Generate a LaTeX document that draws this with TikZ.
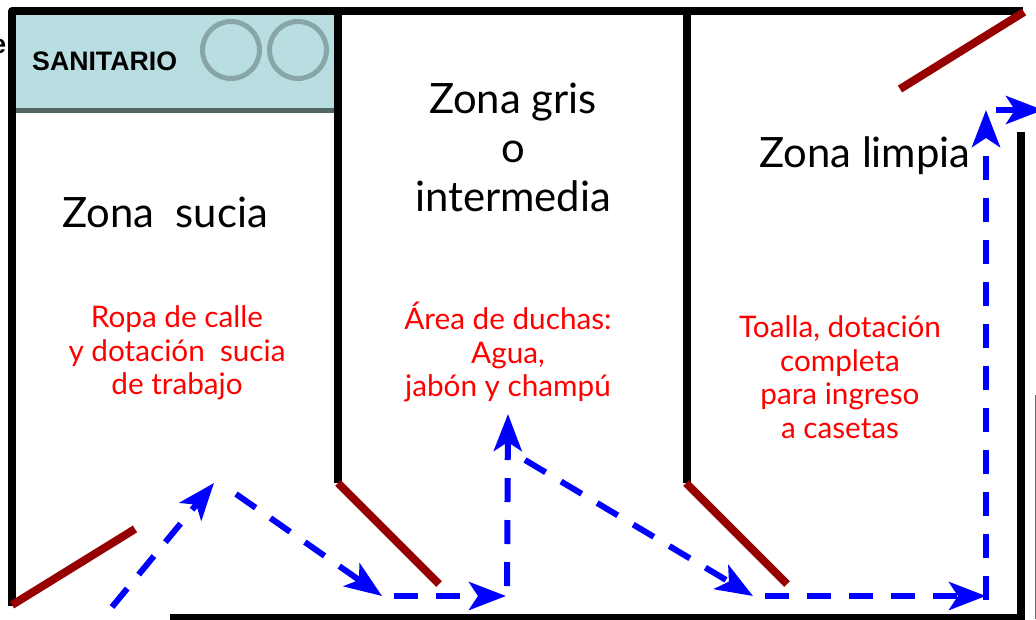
\documentclass[tikz,border=0pt]{standalone}
\usepackage{fontspec}
\setmainfont{Liberation Sans}
\newfontfamily\handfont{Lato}
\usetikzlibrary{arrows.meta}
\definecolor{doorred}{RGB}{150,0,0}
\definecolor{sanfill}{RGB}{184,222,226}
\definecolor{sanring}{RGB}{136,166,168}
\definecolor{sanline}{RGB}{80,100,100}
\definecolor{flow}{RGB}{0,0,255}
\definecolor{edgegray}{RGB}{110,110,110}
\tikzset{
  x=1pt,y=-1pt,
  wall/.style={line width=8pt,black},
  door/.style={line width=8pt,doorred},
  flowline/.style={line width=6pt,flow,dash pattern=on 24pt off 18pt,-{Stealth[length=37pt,width=28pt,inset=9pt]}},
  flowend/.style={line width=6pt,flow,-{Stealth[length=37pt,width=28pt,inset=9pt]}},
  zonelabel/.style={font=\handfont\fontsize{41.8}{48}\selectfont,align=center,black},
  redlabel/.style={font=\handfont\fontsize{29.7}{33.5}\selectfont,align=center,red},
  ring/.style={circle,draw=sanring,line width=5pt,minimum size=57pt,inner sep=0pt}
}
\begin{document}
\begin{tikzpicture}
\useasboundingbox (0,0) rectangle (1036,619);
\fill[white] (0,0) rectangle (1036,619);
\node[inner sep=0pt,draw=none,fill=sanfill,minimum width=320pt,minimum height=98pt,anchor=north west] (san) at (14,12) {};
\draw[line width=5pt,sanline] (san.south west) -- (san.south east);
\node[ring] (r1) at (231,50) {};
\node[ring] (r2) at (298,50) {};
\node[font=\fontsize{26.7}{30}\bfseries\selectfont,anchor=west,inner sep=0pt] (santxt) at (32,61.5) {SANITARIO};
\begin{scope}
\clip (0,0) rectangle (7,619);
\node[font=\fontsize{26.7}{30}\bfseries\selectfont,inner sep=0pt,anchor=base east] (cut) at (6.5,53) {e};
\end{scope}
% walls
\coordinate (tl) at (12,11); \coordinate (tr) at (1023,11);
\coordinate (ll) at (12,606); \coordinate (bl) at (170,618);
\coordinate (rb) at (1021,618); \coordinate (rt) at (1021,132);
\coordinate (w1t) at (338,11); \coordinate (w1b) at (338,483);
\coordinate (w2t) at (687,11); \coordinate (w2b) at (687,483);
\draw[wall,line join=round] (ll) -- (tl) -- (tr);
\draw[wall] (w1t) -- (w1b);
\draw[wall] (w2t) -- (w2b);
\draw[wall] (rt) -- (1021,622);
\draw[wall] (bl) -- (1025,618);
\coordinate (ge1) at (1035.5,395); \coordinate (ge2) at (1035.5,619);
\draw[line width=1pt,edgegray] (ge1) -- (ge2);
% doors
\coordinate (d1a) at (12,605); \coordinate (d1b) at (135,529);
\coordinate (d2a) at (338,483); \coordinate (d2b) at (439,584);
\coordinate (d3a) at (686,483); \coordinate (d3b) at (787,584);
\coordinate (d4a) at (1024,12); \coordinate (d4b) at (900,89);
\draw[door] (d1a) -- (d1b);
\draw[door] (d2a) -- (d2b);
\draw[door] (d3a) -- (d3b);
\draw[door] (d4a) -- (d4b);
% labels
\node[zonelabel] (zs) at (165,212) {Zona\ \ sucia};
\node[zonelabel,align=center] (zg) at (513,147) {Zona gris\\[1pt]o\\[1pt]intermedia};
\node[zonelabel] (zl) at (865,156) {Zona limpia};
\node[redlabel] (t1) at (177,353) {Ropa de calle\\y dotación\ \ sucia\\de trabajo};
\node[redlabel] (t2) at (508,352) {Área de duchas:\\Agua,\\jabón y champú};
\node[redlabel] (t3) at (840,377) {Toalla, dotación\\completa\\para ingreso\\a casetas};
% flow
\coordinate (f0) at (112,607); \coordinate (f1) at (214,483);
\coordinate (f2) at (236,494); \coordinate (f3) at (382,596);
\coordinate (f4) at (394,596); \coordinate (f5) at (506,596);
\coordinate (f6) at (507,586); \coordinate (f7) at (508,414);
\coordinate (f8) at (525,460); \coordinate (f9) at (753,596);
\coordinate (f10) at (765,596); \coordinate (f11) at (986,596);
\coordinate (f12) at (986,600); \coordinate (f13) at (986,110);
\coordinate (f14) at (996,110); \coordinate (f15) at (1043,110);
\draw[flowline] (f0) -- (f1);
\draw[flowline] (f2) -- (f3);
\draw[flowline] (f4) -- (f5);
\draw[flowline] (f6) -- (f7);
\draw[flowline] (f8) -- (f9);
\draw[flowline] (f10) -- (f11);
\draw[flowline] (f12) -- (f13);
\begin{scope}
\clip (0,0) rectangle (1036,619);
\draw[flowend] (f14) -- (f15);
\end{scope}
\end{tikzpicture}
\end{document}
